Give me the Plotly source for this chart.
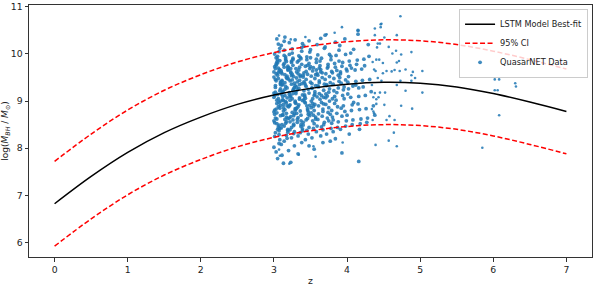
import plotly.graph_objects as go

# ---- model curve ----
fit_z = [0, 0.5, 1, 1.5, 2, 2.5, 3, 3.5, 4, 4.5, 5, 5.5, 6, 6.5, 7]
fit_best = [6.82, 7.40, 7.91, 8.33, 8.66, 8.93, 9.13, 9.27, 9.36, 9.40, 9.38, 9.30, 9.16, 8.98, 8.78]
fit_upper = [7.72, 8.30, 8.81, 9.23, 9.56, 9.83, 10.03, 10.17, 10.26, 10.30, 10.28, 10.20, 10.06, 9.88, 9.68]
fit_lower = [5.92, 6.50, 7.01, 7.43, 7.76, 8.03, 8.23, 8.37, 8.46, 8.50, 8.48, 8.40, 8.26, 8.08, 7.88]

# ---- QuasarNET data (reduced sample) ----
data_z = [
    # 3.0 - 3.1
    3.01, 3.06, 3.03, 3.09, 3.02, 3.07, 3.04, 3.00, 3.08, 3.05,
    3.04, 3.00, 3.07, 3.02, 3.09, 3.05, 3.01, 3.08, 3.03, 3.06,
    3.08, 3.03, 3.05, 3.00, 3.06, 3.09, 3.02, 3.04, 3.07, 3.01,
    3.02, 3.08, 3.00, 3.06, 3.04, 3.01, 3.09, 3.05, 3.03, 3.07,
    3.06, 3.01, 3.09, 3.03, 3.07, 3.00, 3.05, 3.02, 3.08, 3.04,
    3.03, 3.07, 3.01, 3.05, 3.00, 3.08, 3.06, 3.09, 3.04, 3.02,
    3.09, 3.04, 3.06, 3.01, 3.08, 3.02, 3.00, 3.07, 3.05, 3.03,
    # 3.1 - 3.2
    3.12, 3.17, 3.14, 3.19, 3.11, 3.16, 3.13, 3.18, 3.10, 3.15,
    3.18, 3.13, 3.16, 3.11, 3.19, 3.14, 3.10, 3.17, 3.12, 3.15,
    3.14, 3.19, 3.11, 3.16, 3.13, 3.18, 3.15, 3.10, 3.17, 3.12,
    3.16, 3.11, 3.18, 3.13, 3.15, 3.10, 3.19, 3.12, 3.17, 3.14,
    3.10, 3.15, 3.12, 3.18, 3.14, 3.17, 3.11, 3.19, 3.13, 3.16,
    3.13, 3.18, 3.15, 3.10, 3.16, 3.12, 3.14, 3.19, 3.11, 3.17,
    3.19, 3.14, 3.17, 3.12, 3.15,
    # 3.2 - 3.3
    3.21, 3.26, 3.23, 3.28, 3.20, 3.25, 3.29, 3.22, 3.27, 3.24,
    3.27, 3.22, 3.25, 3.20, 3.28, 3.23, 3.26, 3.29, 3.21, 3.24,
    3.23, 3.28, 3.21, 3.26, 3.24, 3.29, 3.20, 3.27, 3.22, 3.25,
    3.25, 3.20, 3.27, 3.22, 3.29, 3.24, 3.21, 3.26, 3.28, 3.23,
    3.29, 3.24, 3.21, 3.27, 3.23, 3.20, 3.25, 3.28, 3.22, 3.26,
    3.22, 3.27, 3.24, 3.29, 3.21, 3.26, 3.23, 3.25,
    # 3.3 - 3.4
    3.32, 3.37, 3.34, 3.39, 3.31, 3.36, 3.30, 3.35, 3.38, 3.33,
    3.35, 3.30, 3.38, 3.33, 3.36, 3.31, 3.39, 3.34, 3.37, 3.32,
    3.38, 3.33, 3.31, 3.36, 3.30, 3.35, 3.32, 3.39, 3.34, 3.37,
    3.31, 3.36, 3.33, 3.38, 3.35, 3.32, 3.37, 3.30, 3.39, 3.34,
    3.36, 3.39, 3.30, 3.35, 3.32, 3.38, 3.33, 3.37, 3.31, 3.34,
    # 3.4 - 3.5
    3.41, 3.46, 3.43, 3.48, 3.40, 3.45, 3.49, 3.42, 3.47, 3.44,
    3.47, 3.42, 3.45, 3.40, 3.48, 3.43, 3.46, 3.41, 3.49, 3.44,
    3.43, 3.48, 3.41, 3.46, 3.44, 3.49, 3.40, 3.47, 3.42, 3.45,
    3.45, 3.40, 3.47, 3.42, 3.48, 3.44, 3.41, 3.46, 3.49, 3.43,
    3.48, 3.43, 3.46, 3.41,
    # 3.5 - 3.6
    3.52, 3.57, 3.54, 3.59, 3.51, 3.56, 3.50, 3.55, 3.58, 3.53,
    3.55, 3.50, 3.58, 3.53, 3.56, 3.51, 3.59, 3.54, 3.57, 3.52,
    3.58, 3.53, 3.51, 3.56, 3.50, 3.55, 3.52, 3.59, 3.54, 3.57,
    3.51, 3.56, 3.53, 3.58, 3.55, 3.52, 3.57, 3.50, 3.59, 3.54,
    # 3.6 - 3.7
    3.61, 3.66, 3.63, 3.68, 3.60, 3.65, 3.69, 3.62, 3.67, 3.64,
    3.67, 3.62, 3.65, 3.60, 3.68, 3.63, 3.66, 3.61, 3.69, 3.64,
    3.63, 3.68, 3.61, 3.66, 3.64, 3.69, 3.60, 3.67, 3.62, 3.65,
    3.65, 3.60, 3.67, 3.62, 3.68, 3.64,
    # 3.7 - 3.8
    3.72, 3.77, 3.74, 3.79, 3.71, 3.76, 3.70, 3.75, 3.78, 3.73,
    3.75, 3.70, 3.78, 3.73, 3.76, 3.71, 3.79, 3.74, 3.77, 3.72,
    3.78, 3.73, 3.71, 3.76, 3.70, 3.75, 3.72, 3.79, 3.74, 3.77,
    3.71, 3.76,
    # 3.8 - 3.9
    3.81, 3.86, 3.83, 3.88, 3.80, 3.85, 3.89, 3.82, 3.87, 3.84,
    3.87, 3.82, 3.85, 3.80, 3.88, 3.83, 3.86, 3.81, 3.89, 3.84,
    3.83, 3.88, 3.81, 3.86, 3.84, 3.89, 3.80,
    # 3.9 - 4.0
    3.92, 3.97, 3.94, 3.99, 3.91, 3.96, 3.90, 3.95, 3.98, 3.93,
    3.95, 3.90, 3.98, 3.93, 3.96, 3.91, 3.99, 3.94, 3.97, 3.92,
    3.98, 3.93, 3.91,
    # 4.0 - 4.1
    4.01, 4.06, 4.03, 4.08, 4.00, 4.05, 4.09, 4.02, 4.07, 4.04,
    4.07, 4.02, 4.05, 4.00, 4.08, 4.03, 4.06, 4.01, 4.09,
    # 4.1 - 4.2
    4.12, 4.17, 4.14, 4.19, 4.11, 4.16, 4.15, 4.15, 4.18, 4.13,
    4.15, 4.16, 4.16, 4.12, 4.17,
    # 4.2 - 4.4
    4.21, 4.26, 4.23, 4.28, 4.20, 4.25, 4.29, 4.22, 4.27, 4.24,
    4.31, 4.36, 4.33, 4.38, 4.30,
]
data_v = [
    # 3.0 - 3.1
    9.12, 8.45, 9.76, 8.91, 9.33, 10.05, 8.62, 9.51, 8.18, 9.88,
    9.02, 8.77, 9.64, 8.33, 9.41, 9.95, 8.54, 9.22, 7.92, 9.70,
    8.85, 9.58, 8.40, 9.17, 10.21, 8.69, 9.46, 9.83, 8.97, 8.25,
    9.29, 9.67, 8.58, 9.05, 10.32, 8.81, 9.38, 7.78, 9.92, 8.49,
    9.60, 8.72, 9.26, 9.79, 8.37, 9.08, 9.55, 8.64, 10.12, 8.95,
    9.43, 8.29, 9.73, 9.14, 8.02, 9.86, 8.88, 9.35, 8.52, 9.69,
    9.00, 8.75, 9.48, 10.00, 8.42, 9.19, 9.62, 8.10, 9.81, 8.83,
    # 3.1 - 3.2
    9.21, 8.56, 9.72, 8.38, 9.44, 9.90, 8.79, 9.07, 10.18, 8.61,
    9.53, 8.93, 9.31, 7.85, 9.66, 8.47, 9.15, 9.84, 8.70, 9.39,
    10.27, 8.34, 9.58, 8.99, 9.77, 8.21, 9.25, 9.61, 8.66, 9.03,
    9.94, 8.50, 9.48, 8.86, 9.12, 8.08, 9.70, 9.36, 8.74, 10.08,
    8.43, 9.56, 9.19, 8.90, 9.80, 8.27, 9.42, 8.63, 9.01, 9.87,
    7.68, 9.28, 8.82, 9.64, 8.53, 9.10, 9.97, 8.40, 9.34, 8.96,
    9.74, 8.15, 9.50, 8.71, 10.36,
    # 3.2 - 3.3
    9.18, 8.60, 9.69, 8.35, 9.47, 10.02, 8.80, 9.09, 8.48, 9.85,
    9.26, 8.92, 9.57, 7.95, 9.38, 8.67, 9.76, 9.00, 10.24, 8.44,
    9.62, 8.73, 9.14, 9.91, 8.22, 9.33, 8.88, 9.52, 8.56, 10.11,
    9.05, 9.71, 8.31, 9.43, 8.97, 9.82, 8.64, 9.23, 8.05, 9.60,
    8.84, 9.36, 9.99, 8.51, 9.11, 9.67, 8.76, 9.29, 8.39, 9.88,
    9.02, 8.69, 9.54, 10.30, 8.90, 9.16, 7.70, 9.45,
    # 3.3 - 3.4
    9.24, 8.58, 9.66, 8.41, 9.49, 9.93, 8.83, 9.07, 10.14, 8.65,
    9.35, 8.95, 9.78, 8.26, 9.55, 8.74, 9.13, 9.86, 8.50, 9.41,
    10.06, 8.88, 9.62, 8.33, 9.20, 9.72, 8.61, 9.01, 9.96, 8.46,
    9.30, 8.79, 9.58, 8.12, 9.44, 9.83, 8.70, 9.16, 10.22, 8.92,
    9.52, 8.37, 9.69, 9.04, 8.55, 9.37, 7.88, 9.90, 8.85, 9.27,
    # 3.4 - 3.5
    9.22, 8.63, 9.74, 8.44, 9.51, 8.90, 10.04, 9.10, 8.30, 9.63,
    8.77, 9.38, 9.88, 8.55, 9.17, 8.96, 9.57, 10.17, 8.69, 9.31,
    8.18, 9.80, 9.03, 8.84, 9.46, 9.69, 8.49, 9.25, 8.98, 9.94,
    8.38, 9.55, 8.72, 9.13, 10.28, 8.60, 9.41, 9.76, 8.91, 9.06,
    8.05, 9.34, 8.81, 9.60,
    # 3.5 - 3.6
    9.27, 8.66, 9.71, 8.47, 9.53, 8.93, 10.09, 9.12, 8.35, 9.64,
    8.80, 9.40, 9.89, 8.58, 9.20, 9.00, 9.58, 8.70, 9.33, 8.22,
    9.82, 9.05, 8.86, 9.48, 9.73, 8.52, 9.28, 10.20, 8.42, 9.56,
    8.75, 9.15, 8.95, 9.66, 7.98, 9.37, 8.62, 9.92, 9.09, 8.89,
    # 3.6 - 3.7
    9.30, 8.68, 9.75, 8.50, 9.55, 8.97, 10.12, 9.16, 8.39, 9.67,
    8.83, 9.43, 9.91, 8.61, 9.23, 9.04, 9.60, 8.73, 9.36, 8.26,
    9.85, 9.08, 8.90, 9.50, 10.33, 8.55, 9.32, 8.78, 9.70, 9.12,
    8.45, 9.98, 8.12, 9.39, 8.94, 9.62,
    # 3.7 - 3.8
    9.33, 8.72, 9.78, 8.53, 9.58, 9.00, 10.15, 9.19, 8.42, 9.70,
    8.86, 9.46, 9.95, 8.64, 9.26, 9.07, 9.63, 8.76, 9.39, 8.30,
    9.88, 9.11, 8.93, 9.52, 10.40, 8.58, 9.35, 8.80, 9.73, 8.15,
    9.15, 9.99,
    # 3.8 - 3.9
    9.36, 8.74, 9.80, 8.56, 9.60, 9.02, 10.08, 9.22, 8.44, 9.72,
    8.88, 9.48, 9.97, 8.66, 9.28, 9.10, 9.65, 8.35, 9.42, 10.25,
    8.95, 9.55, 8.60, 9.18, 8.20, 9.85, 9.05,
    # 3.9 - 4.0
    9.38, 8.78, 9.82, 8.58, 9.62, 9.05, 10.18, 9.24, 8.47, 9.74,
    8.90, 9.50, 9.99, 8.68, 9.30, 8.40, 9.68, 9.12, 10.32, 8.85,
    9.45, 7.90, 9.58,
    # 4.0 - 4.1
    9.40, 8.80, 9.85, 8.60, 9.64, 9.08, 10.10, 9.26, 8.50, 9.76,
    8.92, 9.52, 10.02, 8.70, 9.32, 8.30, 9.70, 9.15, 8.97,
    # 4.1 - 4.2
    9.42, 8.82, 9.87, 8.62, 9.66, 9.10, 10.50, 10.42, 8.52, 9.78,
    8.94, 9.28, 7.72, 9.34, 8.40,
    # 4.2 - 4.4
    9.44, 8.84, 9.89, 8.64, 9.68, 9.12, 10.20, 9.30, 8.55, 9.75,
    9.46, 8.90, 9.20, 8.70, 9.95,
]
# sparse outliers
outlier_z = [4.73, 4.47, 4.46, 4.38, 4.38, 4.51, 4.68, 4.42, 4.45, 4.41,
             4.57, 4.67, 4.62, 4.74, 4.88, 4.40, 4.44, 4.71, 4.68, 4.49,
             4.35, 4.37, 4.39, 4.54, 4.61, 4.65, 4.72, 4.80, 4.90, 5.03,
             4.49, 4.42, 4.88, 4.93, 4.47, 4.88, 4.73, 4.68, 4.80, 5.03,
             4.34, 4.52, 4.38, 4.45, 4.43, 4.36, 4.40, 4.51, 4.40, 4.74,
             4.89, 4.34, 4.36, 4.37, 4.58, 4.54, 4.65, 4.35, 4.64, 4.57,
             4.39, 4.68, 5.85,
             6.40, 6.20, 6.02, 6.08, 6.30, 6.31, 6.02, 6.06, 6.08,
             3.07, 3.08, 3.21, 3.34, 3.54, 3.57, 3.94,
             3.93, 3.72, 3.83, 3.07, 3.23, 3.43, 4.15, 4.46]
outlier_v = [10.80, 10.64, 10.57, 10.54, 10.40, 10.35, 10.40, 10.22, 10.22, 10.14,
             10.15, 10.07, 10.01, 9.99, 10.04, 9.88, 9.88, 9.85, 9.82, 9.81,
             9.83, 9.67, 9.64, 9.64, 9.63, 9.66, 9.64, 9.67, 9.62, 9.64,
             9.59, 9.49, 9.55, 9.49, 9.43, 9.43, 9.43, 9.34, 9.22, 9.18,
             9.34, 9.18, 9.17, 9.18, 9.08, 9.08, 9.04, 8.92, 8.94, 8.90,
             8.84, 8.83, 8.78, 8.74, 8.68, 8.60, 8.60, 8.60, 8.33, 8.16,
             8.07, 8.04, 8.01,
             9.87, 9.78, 9.46, 9.46, 9.38, 9.31, 9.23, 9.23, 8.70,
             7.97, 7.84, 7.67, 7.86, 8.04, 7.82, 8.12,
             10.57, 10.42, 10.45, 10.39, 10.31, 10.36, 10.50, 10.63]

x_ticks = [0, 1, 2, 3, 4, 5, 6, 7]
y_ticks = [6, 7, 8, 9, 10, 11]

FONT = "DejaVu Sans"
BLUE = "#1f77b4"
fig = go.Figure()

fig.add_trace(go.Scatter(
    x=data_z, y=data_v, mode="markers",
    name="QuasarNET Data", legendgroup="data", legendrank=3,
    marker=dict(size=3.8, color=BLUE, opacity=0.85, line=dict(width=0)),
))
fig.add_trace(go.Scatter(
    x=outlier_z, y=outlier_v, mode="markers",
    name="QuasarNET Data", legendgroup="data", showlegend=False,
    marker=dict(size=2.6, color=BLUE, opacity=0.85, line=dict(width=0)),
))
fig.add_trace(go.Scatter(
    x=fit_z, y=fit_best, mode="lines", name="LSTM Model Best-fit", legendrank=1,
    line=dict(color="black", width=1.5, shape="spline"),
))
fig.add_trace(go.Scatter(
    x=fit_z, y=fit_upper, mode="lines", name="95% CI", legendrank=2,
    line=dict(color="red", width=1.5, dash="5px,2.5px", shape="spline"),
))
fig.add_trace(go.Scatter(
    x=fit_z, y=fit_lower, mode="lines", name="95% CI", showlegend=False,
    line=dict(color="red", width=1.5, dash="5px,2.5px", shape="spline"),
))

axis_common = dict(
    showgrid=False, zeroline=False, showline=True, mirror=True,
    linecolor="#333333", linewidth=1, ticks="outside", ticklen=3.5,
    tickcolor="#333333", tickfont=dict(family=FONT, size=9.3, color="#222222"),
)
fig.update_xaxes(range=[-0.35, 7.35], tickvals=x_ticks,
                 title=dict(text="z", font=dict(family=FONT, size=9.3, color="#222222"), standoff=5),
                 **axis_common)
fig.update_yaxes(range=[5.69, 11.04], tickvals=y_ticks,
                 title=dict(text="log(<i>M</i><sub><i>BH</i></sub> / <i>M</i><sub>⊙</sub>)",
                            font=dict(family=FONT, size=9, color="#222222"), standoff=4),
                 **axis_common)

fig.update_layout(
    width=598, height=286,
    margin=dict(l=29, r=6, t=5, b=29, autoexpand=False),
    plot_bgcolor="white", paper_bgcolor="white",
    font=dict(family=FONT, size=9.3, color="#222222"),
    legend=dict(x=0.993, y=0.985, xanchor="right", yanchor="top",
                bgcolor="rgba(255,255,255,0.8)", bordercolor="#cccccc", borderwidth=1,
                font=dict(family=FONT, size=8.2), itemwidth=30, tracegroupgap=0),
)

fig.write_html("out.html", config={"displayModeBar": False},
               post_script="document.body.style.margin='0';")
